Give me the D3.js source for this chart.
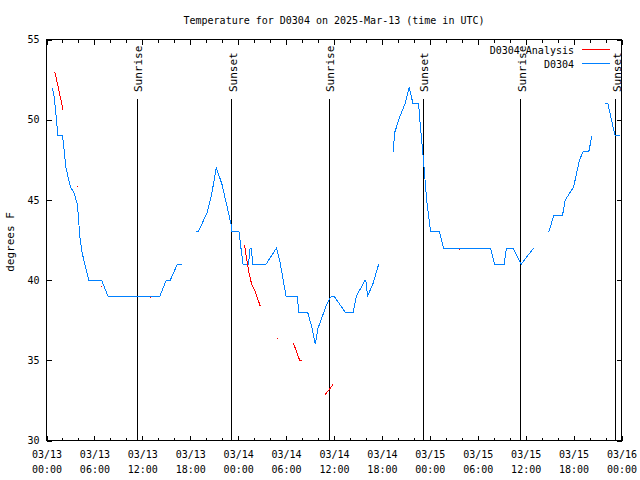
<!DOCTYPE html>
<html>
<head>
<meta charset="utf-8">
<script src="https://cdn.jsdelivr.net/npm/d3@7"></script>
<style>
  html, body { margin: 0; padding: 0; background: #fff; }
  svg { display: block; }
  text { font-family: "DejaVu Sans Mono", monospace; font-size: 10px; fill: #000; }
</style>
</head>
<body>
<svg id="chart" width="640" height="480"></svg>
<script>
// ---------- data (hours since 2025-03-13 00:00 UTC) ----------
const chartTitle = "Temperature for D0304 on 2025-Mar-13 (time in UTC)";
const yLabel = "degrees F";
const seriesNames = ["D0304 Analysis", "D0304"];

// Observed D0304 (null = gap)
const obsHours = [
  0.71, 0.92, 1.25, 1.42, 2.0, 2.17, 2.4, 2.58, 3.0, 3.4, 3.83, 3.96, 4.17, 4.46, 4.9, 5.3, 6.9, 7.7, 14.2, 15.0, 15.5, 16.4, 17.0,
  null,
  18.75, 19.0, 20.1, 20.7, 21.25, 21.4, 21.96, 22.6, 23.1, 23.2, 24.1, 24.6, 25.3, 25.5, 25.62, 25.84, 27.5, 28.8, 29.25, 30.0, 31.4, 31.6, 32.7, 33.2, 33.67, 34.0, 35.1, 35.4, 35.7, 36.0, 37.4, 38.4, 38.8, 39.9, 40.0, 40.2, 40.9, 41.6,
  null,
  43.4, 43.6, 44.25, 44.9, 45.4, 45.9, 46.6, 46.75, 47.2, 47.6, 48.1, 49.2, 49.7, 55.6, 56.1, 57.3, 57.6, 58.4, 59.45, 61.0,
  null,
  62.9, 63.5, 64.6, 64.96, 66.0, 66.75, 67.2, 67.9, 68.3,
  null,
  69.9, 70.3, 70.7, 71.1, 71.2, 71.85
];
const obsTemps = [
  52, 51.6, 50, 49, 49, 48.3, 47.1, 46.7, 45.8, 45.5, 44.8, 44.2, 42.7, 41.7, 40.8, 40, 40, 39, 39, 40, 40, 41, 41,
  null,
  43, 43, 44.2, 45.4, 47, 46.8, 46, 44.6, 43.5, 43, 43, 41, 41, 42, 42, 41, 41, 42, 41.1, 39, 39, 38, 38, 37.1, 36, 37, 38.5, 38.8, 39, 39, 38, 38, 39, 40, 39.9, 39, 39.8, 41,
  null,
  48, 49.2, 50.2, 51, 52, 51, 51, 50, 47.5, 45, 43, 43, 42, 42, 41, 41, 42, 42, 41, 42,
  null,
  43, 44, 44, 45, 45.8, 47.5, 48, 48, 49,
  null,
  51, 51, 50.1, 49.2, 49, 49
];

// D0304 Analysis (null = gap)
const anaHours = [
  1.04, 2.08, null,
  3.78, 3.86, null,
  6.85, 6.95, null,
  10.78, 10.84, null,
  12.98, 13.04, null,
  24.79, 25.09, 25.38, 25.71, 26.13, 26.75, null,
  28.88, 28.94, null,
  30.9, 31.7, 31.96, null,
  34.9, 35.9, null,
  51.68, 51.74, null,
  57.78, 57.84
];
const anaTemps = [
  53.0, 50.6, null,
  45.9, 45.8, null,
  39.6, 39.6, null,
  38.6, 38.6, null,
  38.9, 38.9, null,
  42.2, 41.25, 40.4, 39.7, 39.3, 38.4, null,
  36.35, 36.35, null,
  36.1, 35.0, 35.0, null,
  32.86, 33.5, null,
  41.9, 41.9, null,
  41.8, 41.8
];

const sunEventHours = [11.38, 23.18, 35.40, 47.18, 59.37, 71.28];
const sunEventLabels = ["Sunrise", "Sunset", "Sunrise", "Sunset", "Sunrise", "Sunset"];

const yTickValues = [30, 35, 40, 45, 50, 55];
const xMajorTickHours = [0, 6, 12, 18, 24, 30, 36, 42, 48, 54, 60, 66, 72];
const xMinorTickHours = d3.range(0, 73, 2).filter(h => h % 6 !== 0);

// ---------- setup ----------
const START = Date.UTC(2025, 2, 13, 0, 0, 0);
const toDate = h => new Date(START + h * 3600e3);

const svg = d3.select("#chart");
const L = 46.5, R = 621.5, T = 39.5, B = 440.5;

const x = d3.scaleUtc().domain([toDate(0), toDate(72)]).range([L, R]);
const y = d3.scaleLinear().domain([30, 55]).range([B, T]);

const blue = "#0080ff", red = "#ff0000";

// Title
svg.append("text").attr("x", 334).attr("y", 24).attr("text-anchor", "middle").text(chartTitle);

// Y label
svg.append("text")
  .attr("transform", "translate(14,242) rotate(-90)")
  .attr("text-anchor", "middle")
  .style("font-size", "11px")
  .text(yLabel);

// Axes
const fmtDay = d3.utcFormat("%m/%d"), fmtHour = d3.utcFormat("%H:%M");

const xAxisBottom = d3.axisBottom(x).tickValues(xMajorTickHours.map(toDate)).tickSizeInner(-5).tickSizeOuter(0).tickPadding(10);
const gxb = svg.append("g").attr("transform", `translate(0,${B})`).call(xAxisBottom);
gxb.selectAll(".tick text").each(function(d) {
  const t = d3.select(this);
  t.text(null).attr("dy", null).attr("y", 17);
  t.append("tspan").attr("x", 0).attr("dy", 0).text(fmtDay(d));
  t.append("tspan").attr("x", 0).attr("dy", 15).text(fmtHour(d));
});
gxb.selectAll(".tick text").attr("font-family", null).attr("font-size", null);
gxb.select(".domain").remove();

const xAxisBottomMinor = d3.axisBottom(x).tickValues(xMinorTickHours.map(toDate)).tickSizeInner(-3).tickSizeOuter(0).tickFormat("");
const gxbm = svg.append("g").attr("transform", `translate(0,${B})`).call(xAxisBottomMinor);
gxbm.select(".domain").remove();

const xAxisTop = d3.axisTop(x).tickValues(xMajorTickHours.map(toDate)).tickSizeInner(-5).tickSizeOuter(0).tickFormat("");
const gxt = svg.append("g").attr("transform", `translate(0,${T})`).call(xAxisTop);
gxt.select(".domain").remove();
const xAxisTopMinor = d3.axisTop(x).tickValues(xMinorTickHours.map(toDate)).tickSizeInner(-3).tickSizeOuter(0).tickFormat("");
const gxtm = svg.append("g").attr("transform", `translate(0,${T})`).call(xAxisTopMinor);
gxtm.select(".domain").remove();

const yAxisLeft = d3.axisLeft(y).tickValues(yTickValues).tickSizeInner(-5).tickSizeOuter(0).tickPadding(7).tickFormat(d3.format("d"));
const gyl = svg.append("g").attr("transform", `translate(${L},0)`).call(yAxisLeft);
gyl.selectAll(".tick text").attr("font-family", null).attr("font-size", null);
gyl.select(".domain").remove();

const yAxisRight = d3.axisRight(y).tickValues(yTickValues).tickSizeInner(-5).tickSizeOuter(0).tickFormat("");
const gyr = svg.append("g").attr("transform", `translate(${R},0)`).call(yAxisRight);
gyr.select(".domain").remove();

svg.selectAll(".tick line").attr("stroke", "#000").attr("shape-rendering", "crispEdges");

// Frame
svg.append("rect").attr("x", L).attr("y", T).attr("width", R - L).attr("height", B - T)
  .attr("fill", "none").attr("stroke", "#000").attr("shape-rendering", "crispEdges");

// Sunrise / sunset lines
const sun = svg.append("g");
sunEventHours.forEach((h, i) => {
  const xp = x(toDate(h));
  sun.append("line").attr("x1", xp).attr("x2", xp).attr("y1", B).attr("y2", 99)
    .attr("stroke", "#000").attr("shape-rendering", "crispEdges");
  sun.append("text")
    .attr("transform", `translate(${xp + 5},92) rotate(-90)`)
    .style("font-size", "11px")
    .text(sunEventLabels[i]);
});

// Lines
const toPts = (hs, ts) => hs.map((h, i) => ({ h, t: ts[i] }));
const line = d3.line()
  .defined(d => d.h !== null && d.t !== null)
  .x(d => x(toDate(d.h)))
  .y(d => y(d.t));

svg.append("path").datum(toPts(obsHours, obsTemps))
  .attr("d", line).attr("fill", "none").attr("stroke", blue).attr("stroke-width", 1)
  .attr("shape-rendering", "crispEdges");
svg.append("path").datum(toPts(anaHours, anaTemps))
  .attr("d", line).attr("fill", "none").attr("stroke", red).attr("stroke-width", 1)
  .attr("shape-rendering", "crispEdges");

// Legend
const legend = svg.append("g");
[[seriesNames[0], red, 49.5], [seriesNames[1], blue, 63.5]].forEach(([name, col, ly]) => {
  legend.append("text").attr("x", 574).attr("y", ly + 4).attr("text-anchor", "end").text(name);
  legend.append("line").attr("x1", 582).attr("x2", 610).attr("y1", ly).attr("y2", ly)
    .attr("stroke", col).attr("shape-rendering", "crispEdges");
});
</script>
</body>
</html>
